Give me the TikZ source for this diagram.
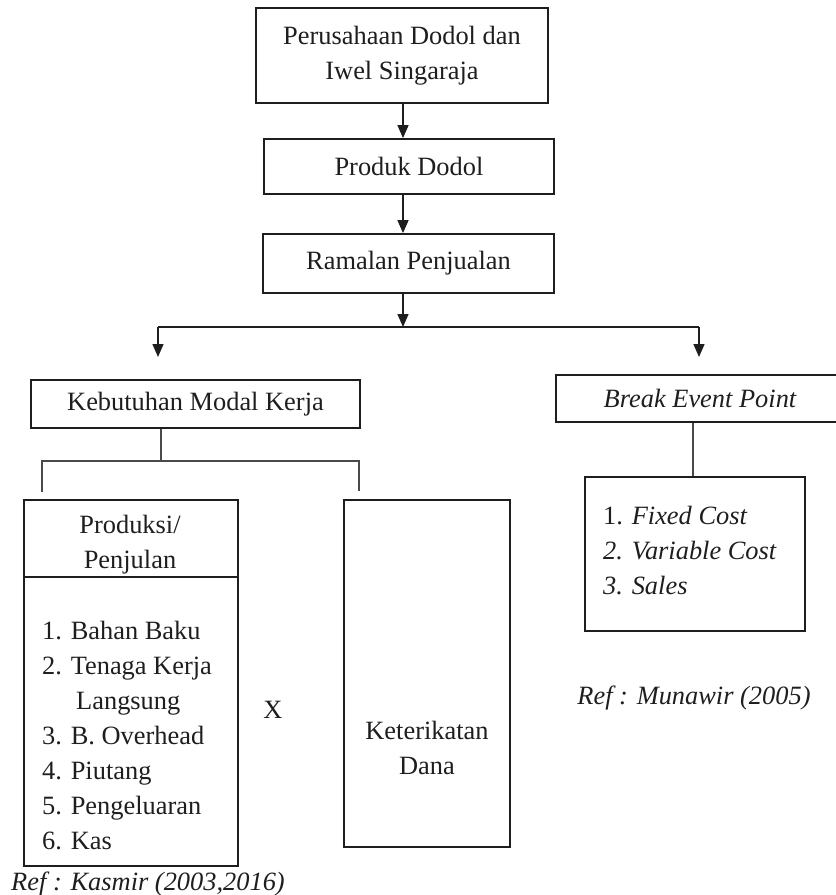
\documentclass[tikz,border=0pt]{standalone}
\usepackage{fontspec}
\setmainfont{Liberation Serif}
\usetikzlibrary{arrows.meta,calc}
\definecolor{ink}{HTML}{1E1E1E}
\definecolor{thin}{HTML}{4A4A4A}
\begin{document}
\begin{tikzpicture}[x=1pt,y=-1pt,
  txt/.style={font=\fontsize{26.4pt}{35pt}\selectfont, text=ink, inner sep=0pt},
  box/.style={txt, draw=ink, line width=1.8pt, align=center},
  conn/.style={draw=ink, line width=1.4pt},
  arr/.style={conn, -{Triangle[length=13pt,width=11pt]}},
  tree/.style={draw=thin, line width=1.1pt}]
\useasboundingbox (0,0) rectangle (836,895);
% top chain
\node[box, minimum width=292pt, minimum height=95pt] (b1) at (402,55.5) {Perusahaan Dodol dan\\Iwel Singaraja};
\node[box, minimum width=290pt, minimum height=55pt] (b2) at (409,166.5) {Produk Dodol};
\node[box, minimum width=291pt, minimum height=59pt] (b3) at (408.5,263.5) {Ramalan Penjualan};
\coordinate (ax) at (403,0);
\draw[arr] (b1.south -| ax) -- (b2.north -| ax);
\draw[arr] (b2.south -| ax) -- (b3.north -| ax);
\coordinate (split) at (403,327);
\draw[arr] (b3.south -| ax) -- (split);
% second level
\node[box, minimum width=329pt, minimum height=48pt] (b4) at (195.5,404) {Kebutuhan Modal Kerja};
\node[box, minimum width=288pt, minimum height=47pt] (b5) at (700,398.5) {\itshape Break Event Point};
\coordinate (lt) at (158,327);
\coordinate (rt) at (699,327);
\coordinate (ltip) at (158,357);
\coordinate (rtip) at (699,357);
\draw[conn] (lt) -- (rt);
\draw[arr] (lt) -- (ltip);
\draw[arr] (rt) -- (rtip);
% left subtree
\node[draw=ink, line width=1.8pt, minimum width=214pt, minimum height=366pt, inner sep=0pt] (b6) at (131,683) {};
\node[draw=ink, line width=1.8pt, minimum width=166pt, minimum height=347pt, inner sep=0pt] (b7) at (427,673.5) {};
\coordinate (hj) at (161,461);
\coordinate (hl) at (41,461);
\coordinate (hr) at (360,461);
\coordinate (tl) at (42,492);
\coordinate (tr) at (359,491);
\draw[tree] (b4.south -| hj) -- (hj);
\draw[tree] (hl) -- (hr);
\draw[tree] (hl -| tl) -- (tl);
\draw[tree] (hr -| tr) -- (tr);
\draw[draw=ink, line width=1.2pt] (b6.west |- 0,577) -- (b6.east |- 0,577);
\node[txt, align=center] (p1) at (130,545) {Produksi/\\Penjulan};
\node[txt, align=left, anchor=north west] (lst) at (42,621) {1. Bahan Baku\\2. Tenaga Kerja\\\hspace*{34pt}Langsung\\3. B. Overhead\\4. Piutang\\5. Pengeluaran\\6. Kas};
\node[txt] (x) at (273,710) {X};
\node[txt, align=center] (kd) at (427,748) {Keterikatan\\Dana};
\node[txt] (ref1) at (148,884) {\itshape Ref : Kasmir (2003,2016)};
% right subtree
\node[draw=ink, line width=1.8pt, minimum width=220pt, minimum height=154pt, inner sep=0pt] (b8) at (695,554) {};
\coordinate (rx) at (693,0);
\draw[tree] (b5.south -| rx) -- (b8.north -| rx);
\node[txt, align=left, anchor=north west] (lst2) at (603,506) {1. \textit{Fixed Cost}\\\textit{2. Variable Cost}\\\textit{3. Sales}};
\node[txt] (ref2) at (694,698) {\itshape Ref : Munawir (2005)};
\end{tikzpicture}
\end{document}
